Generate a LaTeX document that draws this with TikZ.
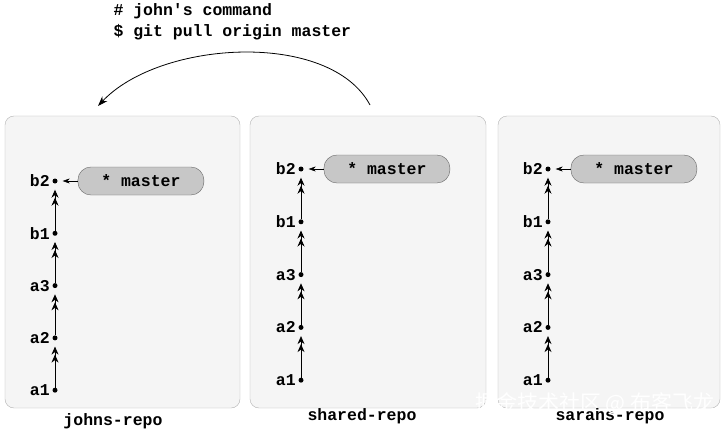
\documentclass[tikz,border=0pt]{standalone}
\usepackage{fontspec}
\setmonofont{Liberation Mono}
\newfontfamily\cjk{Noto Sans CJK SC}
\usetikzlibrary{arrows.meta,positioning}
\begin{document}
\begin{tikzpicture}[
     x=1pt,y=-1pt,
     font=\ttfamily\bfseries\fontsize{16.5}{21}\selectfont,
     repo/.style={draw=black!30,fill=black!4,rounded corners=9pt},
     commit/.style={circle,fill=black,inner sep=0pt,minimum size=5pt},
     branch/.style={draw=black!60,fill=black!22,rounded corners=13pt,minimum width=126pt,minimum height=28pt},
     parent/.style={thick,-{Stealth[length=8pt,width=7pt]Stealth[length=8pt,width=7pt]},shorten >=6pt},
     ref/.style={-{Stealth[length=7pt,width=5pt]},shorten >=5pt}
   ]
   \path[use as bounding box] (0,0) rectangle (725,433);
   % Repositories.
   \draw[repo] (5,116) rectangle (240,408);
   \draw[repo] (250,116) rectangle (486,408);
   \draw[repo] (498,116) rectangle (720,408);
   \node (jname) at (113,421) {johns-repo};
   \node (sname) at (362,416) {shared-repo};
   \node (rname) at (610,416) {sarahs-repo};
   % Commits.
   \foreach \r/\x/\y/\d in {j/55/181/52.3,s/301/169/52.8,r/548/169/52.8} {
     \foreach \c [count=\i from 0] in {b2,b1,a3,a2,a1} {
       \node[commit,label={[xshift=1pt]left:\c}] (\r\c) at (\x,\y+\i*\d) {};
     }
     \draw[parent] (\r a1) -- (\r a2);
     \draw[parent] (\r a2) -- (\r a3);
     \draw[parent] (\r a3) -- (\r b1);
     \draw[parent] (\r b1) -- (\r b2);
     \node[branch,right=20pt of \r b2] (\r master) {* master};
     \draw[ref] (\r master) -- (\r b2);
   }
   % Command.
   \node[align=left,anchor=north west] (cmd) at (110,0) {\# john's command\\\$ git pull origin master};
   \coordinate (from) at (370,105);
   \coordinate (to) at (98,106);
   \draw[thick,-{Stealth[length=10pt,width=7pt]}] (from) .. controls (330,30) and (160,40) .. (to);
   \node[font=\cjk\fontsize{21}{24}\selectfont,text=white,anchor=east] (mark) at (718,403) {掘金技术社区 @ 布客飞龙};
\end{tikzpicture}
\end{document}
